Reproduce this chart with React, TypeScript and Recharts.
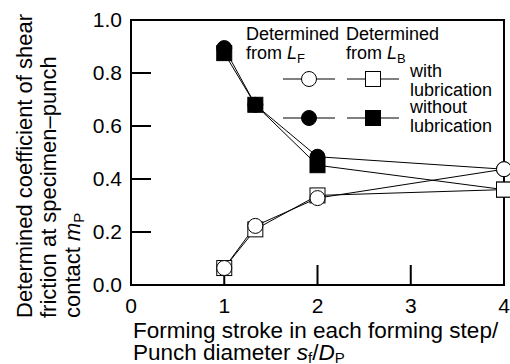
import React from 'react';
import { LineChart, Line, XAxis, YAxis } from 'recharts';

const FONT = '"Liberation Sans", Arial, Helvetica, sans-serif';

// Data
const strokes = [1, 4 / 3, 2, 4];
const withLubFromLF = [0.064, 0.223, 0.328, 0.437];
const withLubFromLB = [0.064, 0.21, 0.338, 0.36];
const withoutLubFromLF = [0.894, 0.68, 0.484, 0.437];
const withoutLubFromLB = [0.875, 0.68, 0.452, 0.36];
const xTicks = [0, 1, 2, 3, 4];
const yTicks = [0, 0.2, 0.4, 0.6, 0.8, 1.0];
const X_DOMAIN = [0, 4];
const Y_DOMAIN = [0, 1];

const data = strokes.map((x, i) => ({
  x,
  wLF: withLubFromLF[i],
  wLB: withLubFromLB[i],
  woLF: withoutLubFromLF[i],
  woLB: withoutLubFromLB[i],
}));

// chart geometry
const W = 510;
const H = 364;
const MARGIN = { top: 20, right: 6, bottom: 0, left: 0 };
const Y_AXIS_W = 131;
const X_AXIS_H = 79;
const PLOT = {
  left: MARGIN.left + Y_AXIS_W,
  right: W - MARGIN.right,
  top: MARGIN.top,
  bottom: H - MARGIN.bottom - X_AXIS_H,
};
const TICK_LEN = 20;
const LW = 2; // frame line weight
const sx = (v: number) => PLOT.left + ((v - X_DOMAIN[0]) / (X_DOMAIN[1] - X_DOMAIN[0])) * (PLOT.right - PLOT.left);
const sy = (v: number) => PLOT.bottom - ((v - Y_DOMAIN[0]) / (Y_DOMAIN[1] - Y_DOMAIN[0])) * (PLOT.bottom - PLOT.top);

const R = 7.5;

const makeCircle = (filled: boolean) => (props: any) => {
  const { cx, cy, index } = props;
  if (cx == null || cy == null) return <g key={`c${index}`} />;
  return (
    <circle key={`c${index}`} cx={cx} cy={cy} r={R} fill={filled ? '#000' : '#fff'} stroke="#000" strokeWidth={1} />
  );
};

const makeSquare = (filled: boolean) => (props: any) => {
  const { cx, cy, index } = props;
  if (cx == null || cy == null) return <g key={`s${index}`} />;
  return (
    <rect key={`s${index}`} x={cx - R} y={cy - R} width={2 * R} height={2 * R} fill={filled ? '#000' : '#fff'} stroke="#000" strokeWidth={1} />
  );
};

// frame and inward ticks drawn as thin filled bars
const Frame = () => {
  const h = LW / 2;
  const w = PLOT.right - PLOT.left;
  const ht = PLOT.bottom - PLOT.top;
  return (
    <g fill="#000" stroke="none">
      <rect x={PLOT.left - h} y={PLOT.top - h} width={w + LW} height={LW} />
      <rect x={PLOT.left - h} y={PLOT.bottom - h} width={w + LW} height={LW} />
      <rect x={PLOT.left - h} y={PLOT.top - h} width={LW} height={ht + LW} />
      <rect x={PLOT.right - h} y={PLOT.top - h} width={LW} height={ht + LW} />
      {xTicks.map((t) => (
        <rect key={`xt${t}`} x={sx(t) - h} y={PLOT.bottom - TICK_LEN} width={LW} height={TICK_LEN} />
      ))}
      {yTicks.map((t) => (
        <rect key={`yt${t}`} x={PLOT.left} y={sy(t) - h} width={TICK_LEN} height={LW} />
      ))}
    </g>
  );
};

const Titles = () => (
  <g fontFamily={FONT} fill="#000">
    <text x={133} y={338} fontSize={22.5}>Forming stroke in each forming step/</text>
    <text x={133} y={360} fontSize={22.5}>
      Punch diameter <tspan fontStyle="italic">s</tspan>
      <tspan fontSize={15} dy={3}>f</tspan>
      <tspan dy={-3}>/</tspan>
      <tspan fontStyle="italic">D</tspan>
      <tspan fontSize={15} dy={3}>P</tspan>
    </text>
    <text transform="rotate(-90)" x={-318} y={32} fontSize={22}>Determined coefficient of shear</text>
    <text transform="rotate(-90)" x={-318} y={56} fontSize={22}>friction at specimen–punch</text>
    <text transform="rotate(-90)" x={-318} y={80} fontSize={22}>
      contact <tspan fontStyle="italic">m</tspan>
      <tspan fontSize={15} dy={4}>P</tspan>
    </text>
  </g>
);

const LegendBox = () => (
  <g fontFamily={FONT} fill="#000" fontSize={18}>
    <text x={246} y={40}>Determined</text>
    <text x={346} y={40}>Determined</text>
    <text x={246} y={59}>
      from <tspan fontStyle="italic">L</tspan>
      <tspan fontSize={13} dy={4}>F</tspan>
    </text>
    <text x={346} y={59}>
      from <tspan fontStyle="italic">L</tspan>
      <tspan fontSize={13} dy={4}>B</tspan>
    </text>
    <line x1={283} x2={335} y1={79} y2={79} stroke="#000" strokeWidth={1} />
    <circle cx={309} cy={79} r={R} fill="#fff" stroke="#000" strokeWidth={1} />
    <line x1={347} x2={399} y1={79} y2={79} stroke="#000" strokeWidth={1} />
    <rect x={373 - R} y={79 - R} width={2 * R} height={2 * R} fill="#fff" stroke="#000" strokeWidth={1} />
    <text x={410} y={77}>with</text>
    <text x={410} y={95.5}>lubrication</text>
    <line x1={283} x2={335} y1={118} y2={118} stroke="#000" strokeWidth={1} />
    <circle cx={309} cy={118} r={R} fill="#000" stroke="#000" strokeWidth={1} />
    <line x1={347} x2={399} y1={118} y2={118} stroke="#000" strokeWidth={1} />
    <rect x={373 - R} y={118 - R} width={2 * R} height={2 * R} fill="#000" stroke="#000" strokeWidth={1} />
    <text x={410} y={113}>without</text>
    <text x={410} y={132}>lubrication</text>
  </g>
);

export default function App() {
  return (
    <div style={{ position: 'absolute', left: 0, top: 0, width: W, height: H, background: '#fff' }}>
      <svg width={W} height={H} style={{ position: 'absolute', left: 0, top: 0 }}>
        <Frame />
        <Titles />
        <LegendBox />
      </svg>
      <div style={{ position: 'absolute', left: 0, top: 0 }}>
        <LineChart width={W} height={H} data={data} margin={MARGIN}>
          <XAxis
            type="number"
            dataKey="x"
            domain={X_DOMAIN}
            ticks={xTicks}
            interval={0}
            height={X_AXIS_H}
            axisLine={false}
            tickLine={false}
            tickSize={0}
            tickMargin={13}
            tick={{ fill: '#000', fontSize: 21, fontFamily: FONT }}
          />
          <YAxis
            type="number"
            domain={Y_DOMAIN}
            ticks={yTicks}
            interval={0}
            width={Y_AXIS_W}
            axisLine={false}
            tickLine={false}
            tickSize={0}
            tickMargin={9}
            tickFormatter={(v: number) => v.toFixed(1)}
            tick={{ fill: '#000', fontSize: 21, fontFamily: FONT }}
          />
          <Line type="linear" dataKey="woLF" stroke="#000" strokeWidth={1} dot={makeCircle(true)} isAnimationActive={false} />
          <Line type="linear" dataKey="woLB" stroke="#000" strokeWidth={1} dot={makeSquare(true)} isAnimationActive={false} />
          <Line type="linear" dataKey="wLB" stroke="#000" strokeWidth={1} dot={makeSquare(false)} isAnimationActive={false} />
          <Line type="linear" dataKey="wLF" stroke="#000" strokeWidth={1} dot={makeCircle(false)} isAnimationActive={false} />
        </LineChart>
      </div>
    </div>
  );
}
